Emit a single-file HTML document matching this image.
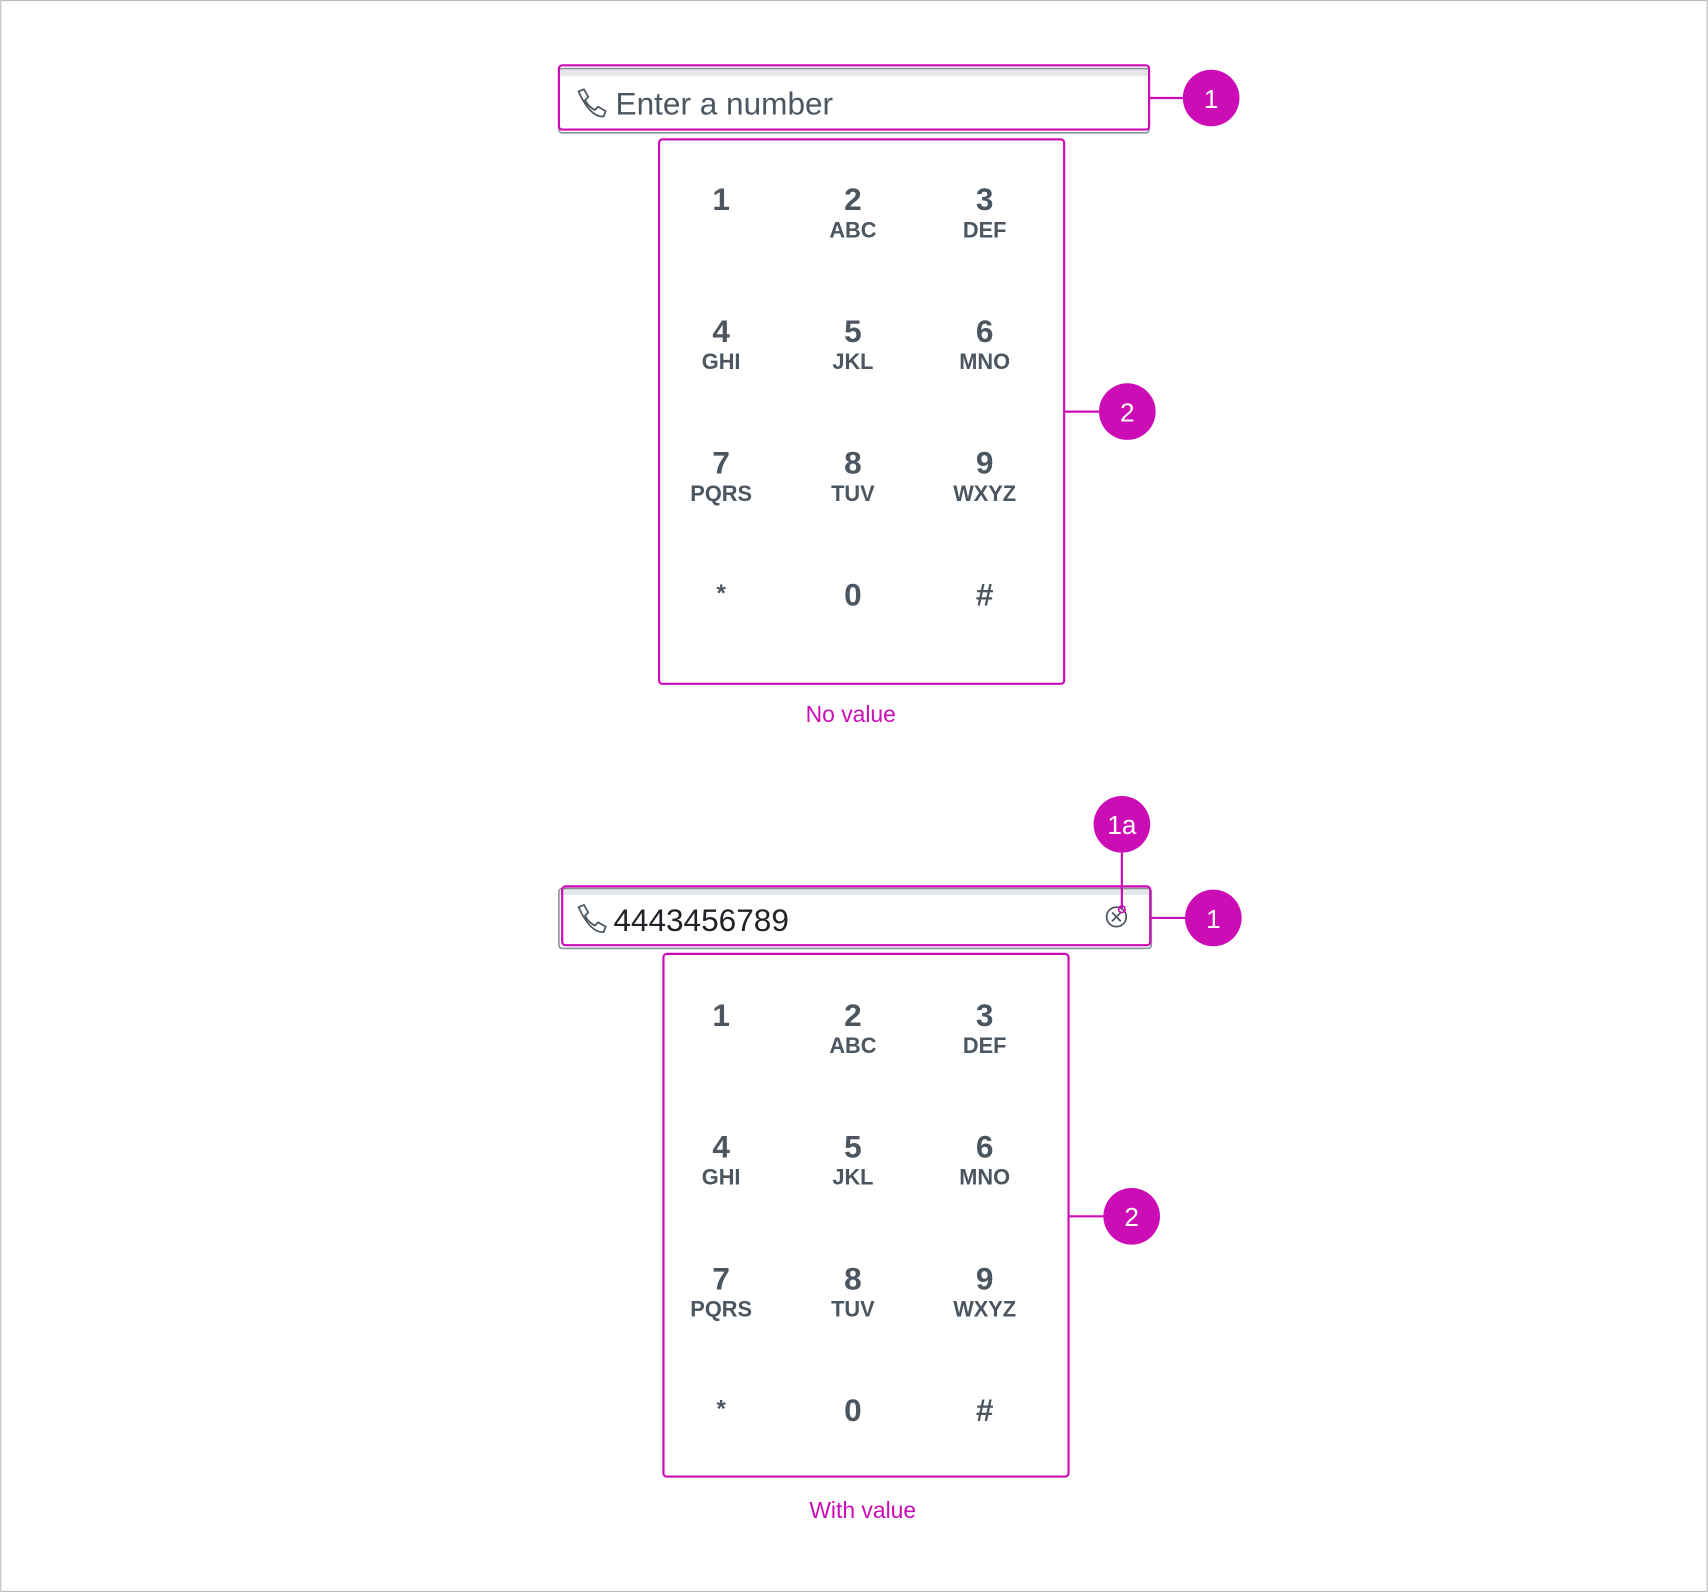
<!DOCTYPE html>
<html><head><meta charset="utf-8"><style>
html,body{margin:0;padding:0;background:#fff;width:1708px;height:1592px;overflow:hidden}
svg{display:block}
.d{font-family:"Liberation Sans",sans-serif;font-size:29px;fill:#4b5660;text-anchor:middle;font-weight:bold}
.l{font-family:"Liberation Sans",sans-serif;font-size:20px;fill:#4b5660;text-anchor:middle;font-weight:bold}
.c{font-family:"Liberation Sans",sans-serif;font-size:24px;fill:#fff;text-anchor:middle}
.m{font-family:"Liberation Sans",sans-serif;font-size:21px;fill:#cc0cb5;text-anchor:middle}
</style></head><body>
<svg width="1708" height="1592" viewBox="0 0 1568 1462" xmlns="http://www.w3.org/2000/svg">
<rect x="0.5" y="0.5" width="1567" height="1461" fill="#fff" stroke="#bbb" stroke-width="1"/>
<!-- input 1 -->
<rect x="513" y="63" width="542" height="59" rx="3" fill="#fff" stroke="#8a929b" stroke-width="1.5"/>
<rect x="514" y="64" width="540" height="6" fill="#e6e7e8"/>
<rect x="513" y="60" width="542" height="59" rx="3" fill="none" stroke="#cc0cb5" stroke-width="2"/>
<path d="M531 84 l5 -2 l4 7 l-3 3 q3 6 9 9 l3 -3 l7 4 l-2 5 q-12 1 -23 -23z" fill="none" stroke="#4b5660" stroke-width="1.6" stroke-linejoin="round"/>
<text x="565" y="105" font-family="Liberation Sans,sans-serif" font-size="29" fill="#4b5660">Enter a number</text>
<!-- keypad 1 -->
<rect x="605" y="128" width="372" height="500" rx="3" fill="none" stroke="#cc0cb5" stroke-width="2"/>
<g>
<text class="d" x="662" y="193">1</text><text class="d" x="783" y="193">2</text><text class="d" x="904" y="193">3</text>
<text class="l" x="783" y="218">ABC</text><text class="l" x="904" y="218">DEF</text>
<text class="d" x="662" y="314">4</text><text class="d" x="783" y="314">5</text><text class="d" x="904" y="314">6</text>
<text class="l" x="662" y="339">GHI</text><text class="l" x="783" y="339">JKL</text><text class="l" x="904" y="339">MNO</text>
<text class="d" x="662" y="435">7</text><text class="d" x="783" y="435">8</text><text class="d" x="904" y="435">9</text>
<text class="l" x="662" y="460">PQRS</text><text class="l" x="783" y="460">TUV</text><text class="l" x="904" y="460">WXYZ</text>
<text class="d" x="662" y="552" style="font-size:22px">*</text><text class="d" x="783" y="556">0</text><text class="d" x="904" y="556">#</text>
</g>
<text class="m" x="781" y="663">No value</text>
<!-- callouts 1 -->
<line x1="1055" y1="90" x2="1087" y2="90" stroke="#cc0cb5" stroke-width="2"/>
<circle cx="1112" cy="90" r="26" fill="#cc0cb5"/><text class="c" x="1112" y="99">1</text>
<line x1="977" y1="378" x2="1010" y2="378" stroke="#cc0cb5" stroke-width="2"/>
<circle cx="1035" cy="378" r="26" fill="#cc0cb5"/><text class="c" x="1035" y="387">2</text>
<!-- input 2 -->
<rect x="513" y="816" width="544" height="55" rx="3" fill="#fff" stroke="#8a929b" stroke-width="1.5"/>
<rect x="514" y="817" width="542" height="5" fill="#e6e7e8"/>
<rect x="516" y="814" width="540" height="54" rx="3" fill="none" stroke="#cc0cb5" stroke-width="2"/>
<path d="M531 833 l5 -2 l4 7 l-3 3 q3 6 9 9 l3 -3 l7 4 l-2 5 q-12 1 -23 -23z" fill="none" stroke="#4b5660" stroke-width="1.6" stroke-linejoin="round"/>
<text x="563" y="855" font-family="Liberation Sans,sans-serif" font-size="29" fill="#1f2327">4443456789</text>
<circle cx="1025" cy="842" r="9" fill="none" stroke="#4b5660" stroke-width="1.6"/>
<path d="M1021 838 l8 8 M1029 838 l-8 8" stroke="#4b5660" stroke-width="1.6"/>
<!-- keypad 2 -->
<rect x="609" y="876" width="372" height="480" rx="3" fill="none" stroke="#cc0cb5" stroke-width="2"/>
<g>
<text class="d" x="662" y="942">1</text><text class="d" x="783" y="942">2</text><text class="d" x="904" y="942">3</text>
<text class="l" x="783" y="967">ABC</text><text class="l" x="904" y="967">DEF</text>
<text class="d" x="662" y="1063">4</text><text class="d" x="783" y="1063">5</text><text class="d" x="904" y="1063">6</text>
<text class="l" x="662" y="1088">GHI</text><text class="l" x="783" y="1088">JKL</text><text class="l" x="904" y="1088">MNO</text>
<text class="d" x="662" y="1184">7</text><text class="d" x="783" y="1184">8</text><text class="d" x="904" y="1184">9</text>
<text class="l" x="662" y="1209">PQRS</text><text class="l" x="783" y="1209">TUV</text><text class="l" x="904" y="1209">WXYZ</text>
<text class="d" x="662" y="1301" style="font-size:22px">*</text><text class="d" x="783" y="1305">0</text><text class="d" x="904" y="1305">#</text>
</g>
<text class="m" x="792" y="1394">With value</text>
<!-- callouts 2 -->
<line x1="1030" y1="783" x2="1030" y2="835" stroke="#cc0cb5" stroke-width="2"/>
<circle cx="1030" cy="835" r="3" fill="none" stroke="#cc0cb5" stroke-width="1.5"/>
<circle cx="1030" cy="757" r="26" fill="#cc0cb5"/><text class="c" x="1030" y="766">1a</text>
<line x1="1057" y1="843" x2="1089" y2="843" stroke="#cc0cb5" stroke-width="2"/>
<circle cx="1114" cy="843" r="26" fill="#cc0cb5"/><text class="c" x="1114" y="852">1</text>
<line x1="981" y1="1117" x2="1014" y2="1117" stroke="#cc0cb5" stroke-width="2"/>
<circle cx="1039" cy="1117" r="26" fill="#cc0cb5"/><text class="c" x="1039" y="1126">2</text>
</svg>
</body></html>
